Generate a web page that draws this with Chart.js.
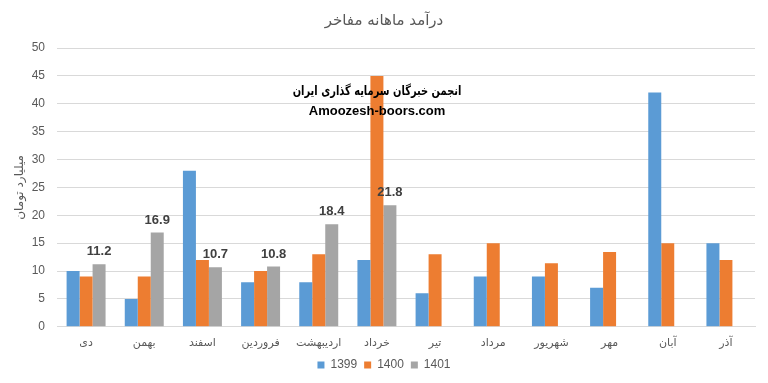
<!DOCTYPE html>
<html>
<head>
<meta charset="utf-8">
<script src="https://cdn.jsdelivr.net/npm/chart.js@4"></script>
<style>
html,body{margin:0;padding:0;background:#fff;}
#wrap{width:768px;height:383px;position:relative;}
</style>
</head>
<body>
<div id="wrap"><canvas id="c" width="768" height="383"></canvas></div>
<script>
const categories = ["دی","بهمن","اسفند","فروردین","اردیبهشت","خرداد","تیر","مرداد","شهریور","مهر","آبان","آذر"];
const series1399 = [10, 5, 28, 8, 8, 12, 6, 9, 9, 7, 42, 15];
const series1400 = [9, 9, 12, 10, 13, 45, 13, 15, 11.4, 13.4, 15, 12];
const series1401 = [11.2, 16.9, 10.7, 10.8, 18.4, 21.8, null, null, null, null, null, null];
const seriesNames = ["1399","1400","1401"];
const yTicks = [0,5,10,15,20,25,30,35,40,45,50];
const chartTitle = "درآمد ماهانه مفاخر";
const yTitle = "میلیارد تومان";
const watermark1 = "انجمن خبرگان سرمایه گذاری ایران";
const watermark2 = "Amoozesh-boors.com";

const sansFont = "'Liberation Sans', Arial, sans-serif";

const labelPlugin = {
  id: 'labels1401',
  afterDatasetsDraw(chart) {
    const ctx = chart.ctx;
    const meta = chart.getDatasetMeta(2);
    ctx.save();
    ctx.font = "bold 13px 'Liberation Sans', Arial, sans-serif";
    ctx.fillStyle = '#404040';
    ctx.textAlign = 'center';
    ctx.textBaseline = 'bottom';
    meta.data.forEach((bar, i) => {
      const v = series1401[i];
      if (v === null || v === undefined) return;
      ctx.fillText(v.toFixed(1), bar.x, bar.y - 6);
    });
    ctx.restore();
  }
};

const yTitlePlugin = {
  id: 'yTitleCustom',
  afterDraw(chart) {
    const ctx = chart.ctx;
    const a = chart.chartArea;
    ctx.save();
    ctx.translate(20, (a.top + a.bottom) / 2);
    ctx.rotate(-Math.PI / 2);
    ctx.fillStyle = '#595959';
    ctx.font = "12px 'DejaVu Sans', sans-serif";
    ctx.textAlign = 'center';
    ctx.textBaseline = 'middle';
    ctx.fillText(yTitle, 0, 0);
    ctx.restore();
  }
};

const watermarkPlugin = {
  id: 'watermark',
  afterDraw(chart) {
    const ctx = chart.ctx;
    ctx.save();
    ctx.fillStyle = '#000';
    ctx.textAlign = 'center';
    ctx.textBaseline = 'middle';
    ctx.save();
    ctx.translate(377, 92);
    ctx.scale(0.76, 1);
    ctx.font = "bold 13px 'DejaVu Sans', sans-serif";
    ctx.fillText(watermark1, 0, 0);
    ctx.restore();
    ctx.font = "bold 13px 'Liberation Sans', Arial, sans-serif";
    ctx.fillText(watermark2, 377, 111);
    ctx.restore();
  }
};

new Chart(document.getElementById('c'), {
  type: 'bar',
  data: {
    labels: categories,
    datasets: [
      {label: seriesNames[0], data: series1399, backgroundColor: '#5B9BD5'},
      {label: seriesNames[1], data: series1400, backgroundColor: '#ED7D31'},
      {label: seriesNames[2], data: series1401, backgroundColor: '#A5A5A5'}
    ]
  },
  options: {
    responsive: false,
    animation: false,
    devicePixelRatio: 1,
    layout: {padding: {left: 13, right: 13, top: 0, bottom: 2}},
    datasets: {bar: {categoryPercentage: 0.67, barPercentage: 1.0}},
    plugins: {
      title: {display: true, text: chartTitle, color: '#595959', font: {size: 15, weight: 'normal', family: "'DejaVu Sans', sans-serif"}, padding: {top: 12, bottom: 18}},
      legend: {position: 'bottom', labels: {boxWidth: 7, boxHeight: 7, padding: 7, color: '#595959', font: {size: 12, family: sansFont}}},
      tooltip: {enabled: false}
    },
    scales: {
      x: {
        grid: {display: false},
        border: {display: true, color: '#d9d9d9'},
        ticks: {color: '#595959', font: {size: 11, family: "'DejaVu Sans', sans-serif"}, padding: 2, maxRotation: 0}
      },
      y: {
        min: 0, max: 50,
        afterBuildTicks(axis) { axis.ticks = yTicks.map(v => ({value: v})); },
        afterFit(axis) { axis.width = 44; },
        grid: {color: '#d9d9d9', drawTicks: false},
        border: {display: false},
        ticks: {color: '#595959', font: {size: 12, family: sansFont}, padding: 12}
      }
    }
  },
  plugins: [labelPlugin, yTitlePlugin, watermarkPlugin]
});
</script>
</body>
</html>
